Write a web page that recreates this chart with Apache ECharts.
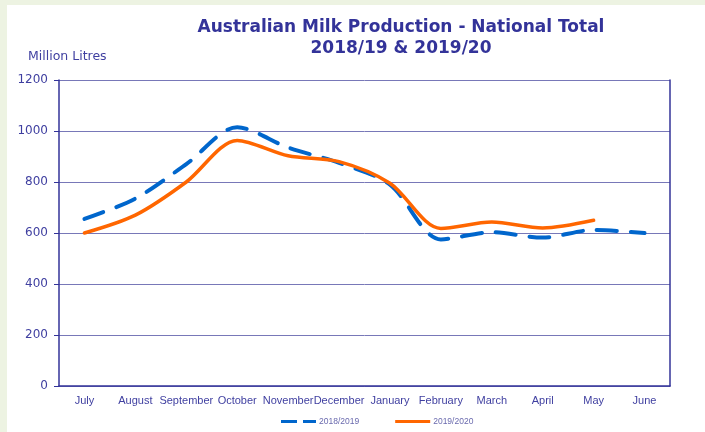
<!DOCTYPE html>
<html>
<head>
<meta charset="utf-8">
<script src="https://cdn.jsdelivr.net/npm/echarts@6/dist/echarts.min.js"></script>
<style>
  html, body { margin: 0; padding: 0; background: #edf3e2; }
  #chart { width: 705px; height: 432px; }
</style>
</head>
<body>
<div id="chart"></div>
<script>
// months of the season, July to June
const months = ['July', 'August', 'September', 'October', 'November', 'December',
  'January', 'February', 'March', 'April', 'May', 'June']

// million litres
const season1819 = [655, 735, 870, 1015, 935, 875, 790, 575, 603, 582, 612, 600]
const season1920 = [600, 670, 800, 963, 903, 880, 795, 618, 643, 620, 650, null]

const yTicks = [0, 200, 400, 600, 800, 1000, 1200]

const axisBlue = '#333399'
const textBlue = '#3f3fa0'

const chart = echarts.init(document.getElementById('chart'))

const option = {
  animation: false,
  graphic: [{
    type: 'rect', left: 7, top: 5, z: -10,
    shape: { width: 705, height: 432 },
    style: { fill: '#ffffff' }
  }, {
    type: 'text', left: 28, top: 50,
    style: { text: 'Million Litres', fill: textBlue, font: '12.5px "DejaVu Sans", sans-serif' }
  }],
  title: {
    text: 'Australian Milk Production - National Total\n2018/19 & 2019/20',
    left: 396, top: 12, textAlign: 'center',
    textStyle: {
      color: axisBlue, fontSize: 17, fontWeight: 'bold', lineHeight: 21,
      fontFamily: '"DejaVu Sans", Verdana, sans-serif'
    }
  },
  legend: {
    left: 276, top: 412,
    itemWidth: 35, itemHeight: 3, itemGap: 36,
    textStyle: { color: '#6a6aae', fontSize: 8.5, padding: [0, 0, 0, -2],
      fontFamily: '"Liberation Sans", Arial, sans-serif' },
    data: [
      { name: '2018/2019', icon: 'path://M0 0H16V3H0Z M22 0H35V3H22Z' },
      { name: '2019/2020', icon: 'rect' }
    ]
  },
  grid: { left: 59, right: 35, top: 80, bottom: 46 },
  xAxis: {
    type: 'category',
    data: months,
    boundaryGap: true,
    axisLine: { lineStyle: { color: axisBlue, width: 1.5 } },
    axisTick: { length: 5, lineStyle: { color: axisBlue } },
    axisLabel: {
      interval: 0, margin: 9, color: textBlue, fontSize: 11,
      fontFamily: '"Liberation Sans", Arial, sans-serif'
    }
  },
  yAxis: [{
    type: 'value', min: 0, max: 1200, interval: 200,
    axisLine: { show: true, lineStyle: { color: axisBlue, width: 1.5 } },
    axisTick: { show: true, length: 5, lineStyle: { color: axisBlue } },
    axisLabel: {
      color: textBlue, fontSize: 12, margin: 11,
      fontFamily: '"DejaVu Sans", sans-serif',
      formatter: v => yTicks.includes(v) ? String(v) : ''
    },
    splitLine: { lineStyle: { color: '#7878b8', width: 1 } }
  }, {
    type: 'value', min: 0, max: 1200, interval: 200, position: 'right',
    axisLine: { show: true, lineStyle: { color: axisBlue, width: 1.5 } },
    axisTick: { show: false }, axisLabel: { show: false }, splitLine: { show: false }
  }],
  series: [{
    name: '2018/2019',
    type: 'line',
    data: season1819,
    smooth: 0.3,
    showSymbol: false,
    symbol: 'none',
    lineStyle: { color: '#0066cc', width: 4, type: [20, 14], cap: 'round' },
    itemStyle: { color: '#0066cc' }
  }, {
    name: '2019/2020',
    type: 'line',
    data: season1920,
    smooth: 0.3,
    showSymbol: false,
    symbol: 'none',
    lineStyle: { color: '#ff6600', width: 3.5, cap: 'round' },
    itemStyle: { color: '#ff6600' }
  }]
}

chart.setOption(option)
</script>
</body>
</html>
